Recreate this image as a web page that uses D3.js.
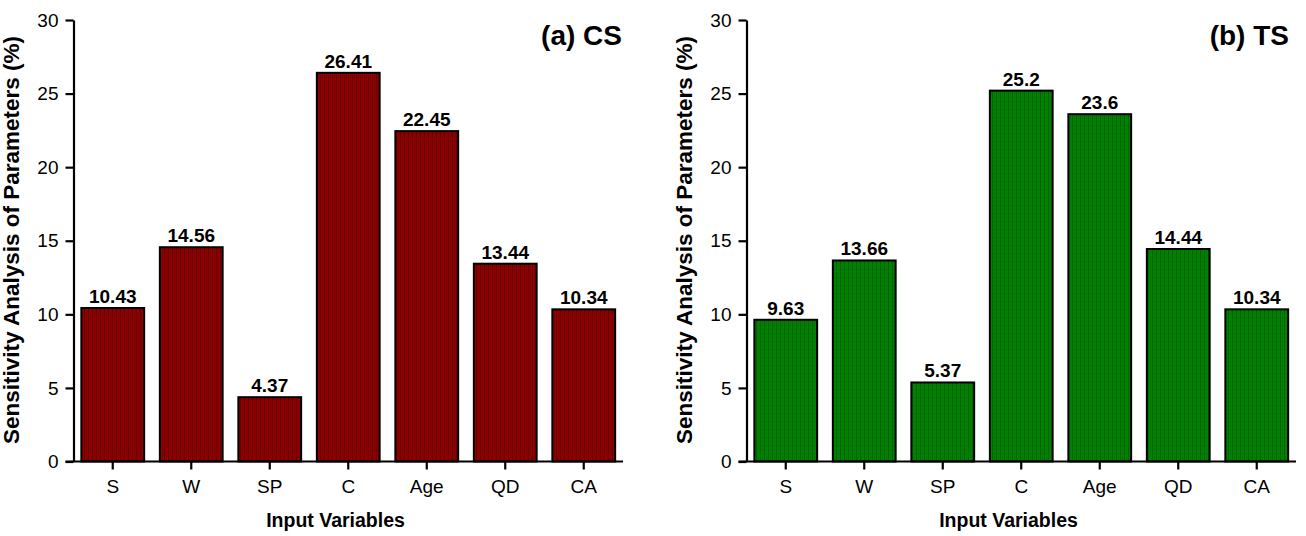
<!DOCTYPE html>
<html>
<head>
<meta charset="utf-8">
<script src="https://cdn.jsdelivr.net/npm/d3@7"></script>
<style>
  html, body { margin: 0; padding: 0; background: #fff; }
  svg { display: block; font-family: "Liberation Sans", Arial, sans-serif; }
</style>
</head>
<body>
<svg id="chart" width="1306" height="536"></svg>
<script>
// Input variables on the x axis
const categories = ["S", "W", "SP", "C", "Age", "QD", "CA"];
// Sensitivity (%) of each input variable, compressive strength panel
const csValues = [10.43, 14.56, 4.37, 26.41, 22.45, 13.44, 10.34];
// Sensitivity (%) of each input variable, tensile strength panel
const tsValues = [9.63, 13.66, 5.37, 25.2, 23.6, 14.44, 10.34];
// Y axis ticks
const yTicks = [0, 5, 10, 15, 20, 25, 30];
// Panel titles
const panelTitles = ["(a) CS", "(b) TS"];
const xTitle = "Input Variables";
const yTitle = "Sensitivity Analysis of Parameters (%)";

const svg = d3.select("#chart");
const defs = svg.append("defs");

// Fine woven texture used inside the bars
function makePattern(id, base, dark) {
  const p = defs.append("pattern")
    .attr("id", id).attr("patternUnits", "userSpaceOnUse")
    .attr("width", 4).attr("height", 4);
  p.append("rect").attr("width", 4).attr("height", 4).attr("fill", base);
  p.append("rect").attr("x", 0).attr("y", 0).attr("width", 1).attr("height", 4)
    .attr("fill", dark).attr("opacity", 0.55);
  p.append("rect").attr("x", 2).attr("y", 1).attr("width", 1).attr("height", 1)
    .attr("fill", dark).attr("opacity", 0.35);
}
makePattern("texRed", "#8c0000", "#4a0000");
makePattern("texGreen", "#008200", "#004a00");

const panels = [
  { values: csValues, title: panelTitles[0], fill: "url(#texRed)", x0: 73.5, titleRight: 622 },
  { values: tsValues, title: panelTitles[1], fill: "url(#texGreen)", x0: 746.5, titleRight: 1289 }
];

const plotW = 549.5;
const yTop = 20, yBottom = 461.5;

const y = d3.scaleLinear().domain([0, 30]).range([yBottom, yTop]);

panels.forEach(panel => {
  const g = svg.append("g");
  const x = d3.scaleBand()
    .domain(categories)
    .range([panel.x0, panel.x0 + plotW])
    .paddingInner(0.2)
    .paddingOuter(0.1);

  // Bars
  g.selectAll("rect.bar")
    .data(panel.values)
    .join("rect")
    .attr("class", "bar")
    .attr("x", (d, i) => x(categories[i]))
    .attr("y", d => y(d))
    .attr("width", x.bandwidth())
    .attr("height", d => y(0) - y(d))
    .attr("fill", panel.fill)
    .attr("stroke", "#000")
    .attr("stroke-width", 2);

  // Value labels
  g.selectAll("text.val")
    .data(panel.values)
    .join("text")
    .attr("class", "val")
    .attr("x", (d, i) => x(categories[i]) + x.bandwidth() / 2)
    .attr("y", d => y(d) - 5)
    .attr("text-anchor", "middle")
    .attr("font-size", 19)
    .attr("font-weight", "bold")
    .attr("fill", "#000")
    .text(d => d);

  // Y axis
  const yAxis = g.append("g")
    .attr("transform", `translate(${panel.x0},0)`)
    .call(d3.axisLeft(y).tickValues(yTicks).tickSize(8).tickSizeOuter(0).tickPadding(7));
  yAxis.select(".domain").attr("stroke-width", 2.2);
  yAxis.selectAll(".tick line").attr("stroke-width", 2.2);
  yAxis.selectAll(".tick text").attr("font-size", 19).attr("font-family", "Liberation Sans, Arial, sans-serif").attr("fill", "#000");

  // X axis
  const xAxis = g.append("g")
    .attr("transform", `translate(0,${yBottom})`)
    .call(d3.axisBottom(x).tickSize(8).tickSizeOuter(0).tickPadding(10));
  xAxis.select(".domain").remove();
  xAxis.selectAll(".tick line").attr("stroke-width", 2.2);
  xAxis.selectAll(".tick text").attr("font-size", 19).attr("font-family", "Liberation Sans, Arial, sans-serif").attr("fill", "#000");
  xAxis.append("line")
    .attr("x1", panel.x0 - 8).attr("x2", panel.x0 + plotW)
    .attr("y1", 0).attr("y2", 0)
    .attr("stroke", "#000").attr("stroke-width", 2.2);

  // Axis titles
  g.append("text")
    .attr("x", panel.x0 + 262)
    .attr("y", 527)
    .attr("text-anchor", "middle")
    .attr("font-size", 19.5)
    .attr("font-weight", "bold")
    .text(xTitle);

  g.append("text")
    .attr("transform", `translate(${panel.x0 - 54.5},240) rotate(-90)`)
    .attr("text-anchor", "middle")
    .attr("font-size", 22.5)
    .attr("font-weight", "bold")
    .text(yTitle);

  // Panel title
  g.append("text")
    .attr("x", panel.titleRight)
    .attr("y", 45)
    .attr("text-anchor", "end")
    .attr("font-size", 28)
    .attr("font-weight", "bold")
    .text(panel.title);
});
</script>
</body>
</html>
